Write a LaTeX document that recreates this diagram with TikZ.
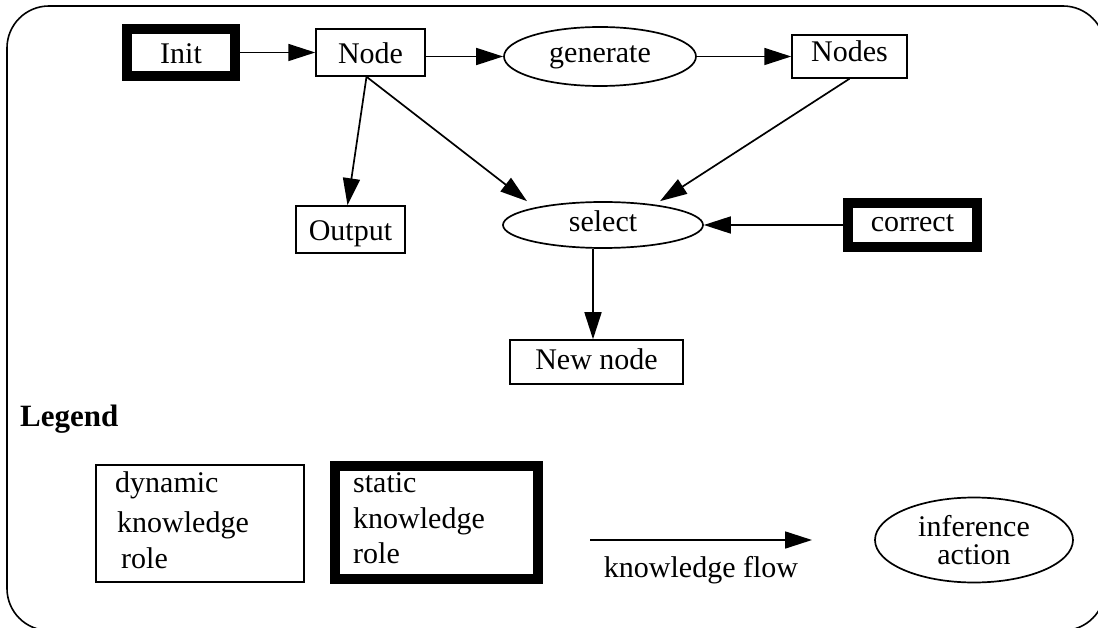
\documentclass[tikz,border=0pt]{standalone}
\usepackage{fontspec}
\setmainfont{Liberation Serif}
\usetikzlibrary{arrows.meta,shapes.geometric}
\begin{document}
\begin{tikzpicture}[x=1pt,y=-1pt,
  txt/.style={font=\fontsize{30}{34}\selectfont},
  bl/.style={text height=#1, text depth=0pt},
  dynbox/.style={draw, line width=1.5pt, rectangle, inner sep=0pt, txt},
  statbox/.style={draw, line width=10pt, rectangle, inner sep=0pt, txt},
  action/.style={draw, line width=1.7pt, ellipse, inner sep=0pt, txt},
  flow/.style={line width=1.7pt, -{Triangle[length=27pt,width=17pt]}},
  legtext/.style={txt, anchor=base west, inner sep=0pt}
]
% page area
\useasboundingbox (0,0) rectangle (1098,628);

% rounded outer frame (runs past the right and bottom page edges)
\begin{scope}
  \clip (0,0) rectangle (1098,628);
  \draw[overlay, line width=1.6pt, rounded corners=42pt] (7,6) rectangle (1105,630.5);
\end{scope}

% knowledge roles and inference actions
\node[statbox, bl=22pt, minimum width=108pt, minimum height=47pt] (init) at (181,52.5) {Init};
\node[dynbox, bl=23pt, minimum width=109pt, minimum height=47pt] (node) at (370.5,52.5) {Node};
\node[action, bl=13pt, minimum width=192pt, minimum height=59pt] (generate) at (600,56.5) {generate};
\node[dynbox, bl=10pt, minimum width=115pt, minimum height=43pt] (nodes) at (849.5,56.5) {Nodes};
\node[dynbox, bl=22pt, minimum width=109pt, minimum height=47pt] (output) at (350.5,229.5) {Output};
\node[action, bl=13pt, minimum width=200pt, minimum height=46pt] (select) at (603,225) {select};
\node[statbox, bl=13pt, minimum width=129pt, minimum height=44pt] (correct) at (912.5,225) {correct};
\node[dynbox, bl=16pt, minimum width=173pt, minimum height=44pt] (newnode) at (596.5,362) {New node};

% knowledge flows
\draw[flow] (init.east) -- (node.west);
\draw[flow] (node.east |- generate.west) -- (generate.west);
\draw[flow] (generate.east) -- (nodes.west);
\draw[flow] ([xshift=-4pt]node.south) -- ([xshift=-3pt]output.north);
\draw[flow] ([xshift=-4pt]node.south) -- ([xshift=-76pt]select.north);
\draw[flow] (nodes.south) -- ([xshift=57pt]select.north);
\draw[flow] (correct.west) -- (select.east);
\draw[flow] ([xshift=-10pt]select.south) -- ([xshift=-10pt]select.south |- newnode.north);

% legend
\node[font=\bfseries\fontsize{31}{34}\selectfont, anchor=base west, inner sep=0pt] (legend) at (20,426) {Legend};

\node[dynbox, minimum width=208pt, minimum height=117pt] (dynamic) at (200,523.5) {};
\node[legtext] (dyn1) at (115,492) {dynamic};
\node[legtext] (dyn2) at (117,532) {knowledge};
\node[legtext] (dyn3) at (121,568) {role};

\node[statbox, minimum width=203pt, minimum height=113pt] (static) at (436.5,522.5) {};
\node[legtext] (stat1) at (353,492) {static};
\node[legtext] (stat2) at (353,528) {knowledge};
\node[legtext] (stat3) at (353,563) {role};

\coordinate (kfa) at (590,540);
\coordinate (kfb) at (812,540);
\draw[flow] (kfa) -- (kfb);
\node[txt, anchor=base, inner sep=0pt] (kflabel) at (701,577) {knowledge flow};

\node[action, minimum width=198pt, minimum height=85pt, align=center,
      font=\fontsize{30}{28}\selectfont] (infer) at (974,540) {inference\\action};
\end{tikzpicture}
\end{document}
